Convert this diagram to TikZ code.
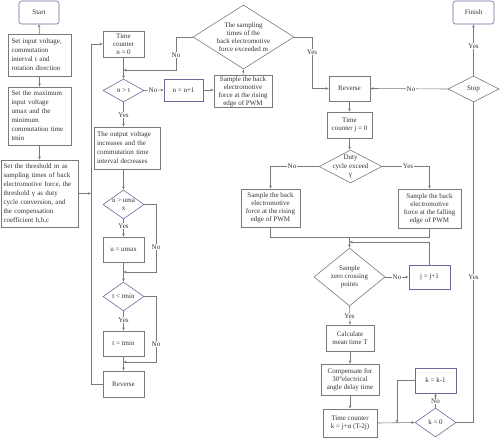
\documentclass[tikz,border=0pt]{standalone}
\usepackage{fontspec}
\setmainfont{Liberation Serif}
\usetikzlibrary{arrows.meta,shapes.geometric}
\definecolor{gcol}{HTML}{7A7A7A}
\definecolor{bcol}{HTML}{6A6A9C}
\definecolor{txt}{HTML}{333333}
\newcommand{\fs}{\fontsize{7}{8.1}\selectfont}
\newcommand{\fsl}{\fontsize{7}{9}\selectfont}
\tikzset{
 base/.style={font=\fs, text=txt, inner sep=0.5pt, align=center},
 box/.style={base, draw=gcol, rectangle, line width=0.6pt},
 lbox/.style={box, font=\fsl, align=left},
 bbox/.style={box, draw=bcol},
 dia/.style={draw=gcol, diamond, inner sep=0pt, line width=0.6pt},
 bdia/.style={dia, draw=bcol},
 dtext/.style={base, inner sep=0pt},
 lab/.style={base, fill=white, inner sep=0.6pt},
 conn/.style={draw=gcol, line width=0.6pt},
 arr/.style={conn, -{Stealth[length=3.2pt,width=2.6pt]}},
}
\begin{document}
\begin{tikzpicture}[x=1pt,y=-1pt]
\useasboundingbox (0,0) rectangle (500,438);
% left column
\node[bbox, rounded corners=2.5pt, minimum width=40pt, minimum height=23pt] (start) at (39,12.5) {Start};
\node[lbox, minimum width=63pt, minimum height=42pt, text width=56pt] (set1) at (39.5,55) {Set input voltage,\\commutation\\interval t and\\rotation direction};
\node[lbox, minimum width=63pt, minimum height=58pt, text width=56pt] (set2) at (39.5,116) {Set the maximum\\input voltage\\umax and the\\minimum\\commutation time\\tmin};
\node[lbox, minimum width=77pt, minimum height=67pt, text width=72pt] (set3) at (39.5,193.5) {Set the threshold m as\\sampling times of back\\electromotive force, the\\threshold γ as duty\\cycle conversion, and\\the compensation\\coefficient h,b,c};
% second column
\node[box, minimum width=41pt, minimum height=26pt] (tc0) at (123.5,44) {Time\\counter\\n = 0};
\node[bdia, minimum width=41pt, minimum height=23pt] (dnt) at (123.5,90.5) {};
\node[dtext] (dntt) at (dnt.center) {n > t};
\node[lbox, minimum width=66pt, minimum height=42pt, text width=61pt] (out) at (127.5,148) {The output voltage\\increases and the\\commutation time\\interval decreases};
\node[bdia, minimum width=41pt, minimum height=29pt] (du) at (123.5,204.5) {};
\node[dtext] (dut) at (du.center) {u > uma\\x};
\node[box, minimum width=41pt, minimum height=25pt] (uu) at (123.5,249.5) {u = umax};
\node[bdia, minimum width=41pt, minimum height=29pt] (dt) at (123.5,296.5) {};
\node[dtext] (dtt) at (dt.center) {t < tmin};
\node[box, minimum width=41pt, minimum height=25pt] (tt) at (123.5,343.5) {t = tmin};
\node[box, minimum width=41pt, minimum height=26pt] (rev1) at (123.5,384) {Reverse};
% top middle
\node[bbox, minimum width=39pt, minimum height=22pt] (nn) at (183.5,90) {n = n+1};
\node[box, minimum width=58pt, minimum height=31pt] (samp1) at (243,91.5) {Sample the back\\electromotive\\force at the rising\\edge of PWM};
\node[dia, minimum width=101pt, minimum height=64pt] (ds) at (243.5,37) {};
\node[dtext] (dst) at (ds.center) {The sampling\\times of the\\back electromotive\\force exceeded m};
% right part
\node[box, minimum width=41pt, minimum height=25pt] (rev2) at (349.5,88.5) {Reverse};
\node[dia, minimum width=51pt, minimum height=26pt] (stop) at (473.5,89) {};
\node[dtext] (stopt) at (stop.center) {Stop};
\node[bbox, rounded corners=2.5pt, minimum width=41pt, minimum height=23pt] (finish) at (473.5,12.5) {Finish};
\node[box, minimum width=45pt, minimum height=26pt] (tcj) at (349.5,125) {Time\\counter j = 0};
\node[dia, minimum width=63pt, minimum height=33pt] (dd) at (350.5,166.5) {};
\node[dtext] (ddt) at (dd.center) {Duty\\cycle exceed\\γ};
\node[box, minimum width=59pt, minimum height=38pt] (rise2) at (270.5,208) {Sample the back\\electromotive\\force at the rising\\edge of PWM};
\node[box, minimum width=63pt, minimum height=39pt] (fall) at (429.5,208.5) {Sample the back\\electromotive\\force at the falling\\edge of PWM};
\node[dia, minimum width=71pt, minimum height=58pt] (dz) at (349.5,277) {};
\node[dtext] (dzt) at (dz.center) {Sample\\zero crossing\\points};
\node[bbox, minimum width=41pt, minimum height=24pt] (jj) at (429.5,277) {j = j+1};
\node[box, minimum width=48pt, minimum height=26pt] (calc) at (350,338) {Calculate\\mean time T};
\node[box, minimum width=58pt, minimum height=31pt] (comp) at (350,379.5) {Compensate for\\30°electrical\\angle delay time};
\node[box, minimum width=54pt, minimum height=28pt] (tck) at (350,423) {Time counter\\k = j+α (T-2j)};
\node[bbox, minimum width=41pt, minimum height=25pt] (kk) at (435.5,380.5) {k = k-1};
\node[bdia, minimum width=41pt, minimum height=29pt] (dk) at (435.5,422.5) {};
\node[dtext] (dkt) at (dk.center) {k = 0};
% junction coordinates
\coordinate (m0) at (123.5,70);
\coordinate (m1) at (123.5,272);
\coordinate (m2) at (123.5,362);
\coordinate (lp) at (91,193.5);
\coordinate (mz) at (349.5,237);
\coordinate (mj) at (349.5,242);
\coordinate (mk) at (397,423);
% left column connectors
\draw[arr] (set1.north) -- (start.south);
\draw[arr] (set1.south) -- (set2.north);
\draw[arr] (set2.south) -- (set3.north);
\draw[arr] (set3.east) -- (lp);
\draw[arr] (rev1.west) -- (91,384) -- (91,44) -- (tc0.west);
% second column connectors
\draw[arr] (tc0.south) -- (dnt.north);
\draw[arr] (ds.west) -- (176,37) -- (176,70) -- (m0);
\node[lab] (lno1) at (176,55) {No};
\draw[arr] (dnt.east) -- (nn.west);
\node[lab] (lno2) at (153,90.5) {No};
\draw[arr] (nn.east) -- (samp1.west |- nn.east);
\draw[arr] (samp1.north) -- (ds.south);
\draw[arr] (dnt.south) -- (dnt.south |- out.north);
\node[lab] (lyes1) at (123.5,115) {Yes};
\draw[arr] (dnt.south |- out.south) -- (du.north);
\draw[arr] (du.south) -- (uu.north);
\node[lab] (lyes2) at (123.5,226) {Yes};
\draw[arr] (du.east) -- (156,204.5) -- (156,272) -- (m1);
\node[lab] (lno3) at (156,247) {No};
\draw[arr] (uu.south) -- (dt.north);
\draw[arr] (dt.south) -- (tt.north);
\node[lab] (lyes3) at (123.5,320) {Yes};
\draw[arr] (dt.east) -- (156,296.5) -- (156,362) -- (m2);
\node[lab] (lno4) at (156,344) {No};
\draw[arr] (tt.south) -- (rev1.north);
% right connectors
\draw[arr] (ds.east) -- (312,37) -- (312,88.5) -- (rev2.west);
\node[lab] (lyes4) at (312,52) {Yes};
\draw[arr] (stop.west) -- (rev2.east);
\node[lab] (lno5) at (411,89) {No};
\draw[arr] (stop.north) -- (finish.south);
\node[lab] (lyes5) at (473.5,46) {Yes};
\draw[arr] (rev2.south) -- (tcj.north);
\draw[arr] (tcj.south) -- (tcj.south |- dd.north);
\draw[arr] (dd.west) -- (rise2.north |- dd.west) -- (rise2.north);
\node[lab] (lno6) at (292,166.5) {No};
\draw[arr] (dd.east) -- (fall.north |- dd.east) -- (fall.north);
\node[lab] (lyes6) at (408,166.5) {Yes};
\draw[conn] (rise2.south) -- (rise2.south |- mz) -- (mz);
\draw[conn] (fall.south) -- (fall.south |- mz) -- (mz);
\draw[arr] (mz) -- (dz.north);
\draw[arr] (jj.north) -- (jj.north |- mj) -- (mj);
\draw[arr] (dz.east) -- (jj.west);
\node[lab] (lno7) at (397,277) {No};
\draw[arr] (dz.south) -- (calc.north);
\node[lab] (lyes7) at (349.5,316) {Yes};
\draw[arr] (calc.south) -- (comp.north);
\draw[arr] (comp.south) -- (tck.north);
\draw[arr] (tck.east) -- (dk.west);
\draw[arr] (kk.west) -- (mk |- kk.west) -- (mk);
\draw[arr] (dk.north) -- (kk.south);
\node[lab] (lno8) at (435.5,401.5) {No};
\draw[conn] (dk.east) -- (473.5,422.5) -- (stop.south);
\node[lab] (lyes8) at (473.5,277) {Yes};
\end{tikzpicture}
\end{document}
